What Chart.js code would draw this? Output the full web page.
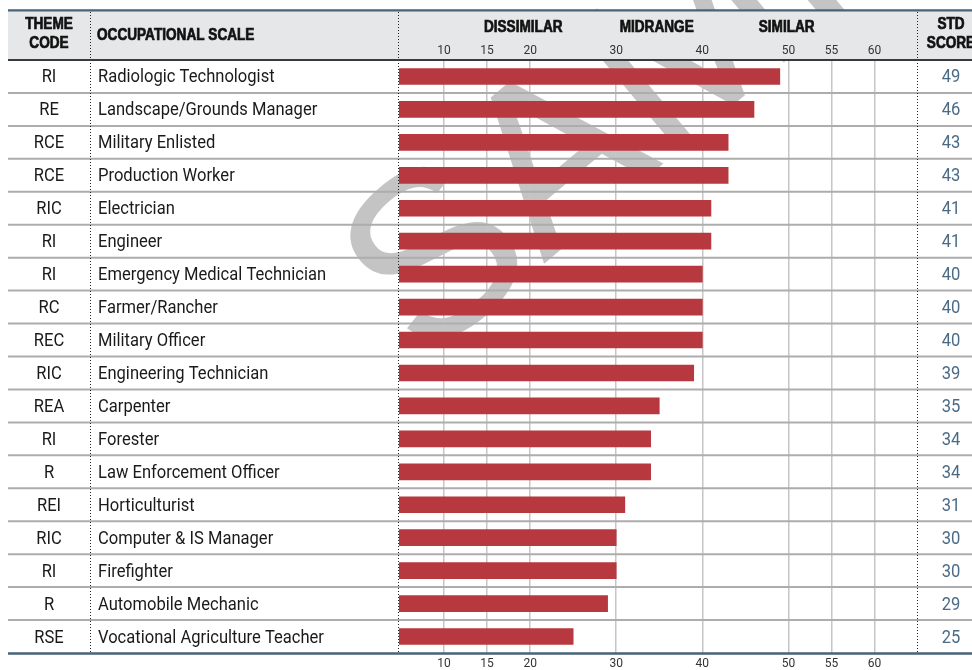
<!DOCTYPE html>
<html>
<head>
<meta charset="utf-8">
<script src="https://cdn.jsdelivr.net/npm/chart.js@4.4.1/dist/chart.umd.min.js"></script>
<style>
  body { margin: 0; background: #fff; }
  #occChart { display: block; }
</style>
</head>
<body>
<canvas id="occChart" width="972" height="670"></canvas>
<script>
const themeCodes = ["RI", "RE", "RCE", "RCE", "RIC", "RI", "RI", "RC", "REC", "RIC", "REA", "RI", "R", "REI", "RIC", "RI", "R", "RSE"];
const occupations = [
  "Radiologic Technologist", "Landscape/Grounds Manager", "Military Enlisted", "Production Worker",
  "Electrician", "Engineer", "Emergency Medical Technician", "Farmer/Rancher", "Military Officer",
  "Engineering Technician", "Carpenter", "Forester", "Law Enforcement Officer", "Horticulturist",
  "Computer & IS Manager", "Firefighter", "Automobile Mechanic", "Vocational Agriculture Teacher"
];
const stdScores = [49, 46, 43, 43, 41, 41, 40, 40, 40, 39, 35, 34, 34, 31, 30, 30, 29, 25];
const tickValues = [10, 15, 20, 30, 40, 50, 55, 60];
const bandLabels = ["DISSIMILAR", "MIDRANGE", "SIMILAR"];

const FONT = "Roboto, 'Liberation Sans', sans-serif";
const HEAD_FONT = "'Liberation Sans', Arial, sans-serif";
const BLUE = "#47637a";

// text squeezed a bit sideways, the original uses a condensed face
function narrowText(ctx, text, x, y, align, sx, heavy) {
  ctx.save();
  ctx.translate(x, y);
  ctx.scale(sx, 1);
  ctx.textAlign = align;
  if (heavy) {
    ctx.strokeStyle = ctx.fillStyle;
    ctx.lineWidth = 0.7;
    ctx.strokeText(text, 0, 0);
  }
  ctx.fillText(text, 0, 0);
  ctx.restore();
}

// paints the table around the bar area: header, row rules, columns, scores
const tablePlugin = {
  id: "tableFrame",
  beforeDraw(chart) {
    const { ctx } = chart;
    ctx.save();
    ctx.fillStyle = "#fff";
    ctx.fillRect(0, 0, chart.width, chart.height);

    // watermark
    ctx.translate(382, 315);
    ctx.rotate(-40 * Math.PI / 180);
    ctx.font = "235px 'Liberation Sans', sans-serif";
    ctx.fillStyle = "#c4c4c4";
    ctx.textBaseline = "middle";
    ctx.fillText("SAMPLE", 0, 0);
    ctx.restore();

    ctx.save();
    ctx.fillStyle = "#e6e7e8";
    ctx.fillRect(8, 11, chart.width - 8, 49);
    ctx.restore();
  },
  beforeDatasetsDraw(chart) {
    const { ctx } = chart;
    const y = chart.scales.y;
    ctx.save();
    ctx.strokeStyle = "#adadad";
    ctx.lineWidth = 2;
    for (let i = 0; i < occupations.length - 1; i++) {
      const yy = (y.getPixelForValue(i) + y.getPixelForValue(i + 1)) / 2;
      ctx.beginPath();
      ctx.moveTo(8, yy);
      ctx.lineTo(chart.width, yy);
      ctx.stroke();
    }
    ctx.restore();
  },
  afterDraw(chart) {
    const { ctx, chartArea } = chart;
    const y = chart.scales.y;
    const x = chart.scales.x;
    ctx.save();

    // header text
    ctx.fillStyle = "#111";
    ctx.font = "bold 16px " + HEAD_FONT;
    ctx.textBaseline = "middle";
    narrowText(ctx, "THEME", 49, 25, "center", 0.85, true);
    narrowText(ctx, "CODE", 49, 44, "center", 0.85, true);
    narrowText(ctx, "STD", 951, 25, "center", 0.85, true);
    narrowText(ctx, "SCORE", 951, 44, "center", 0.85, true);
    narrowText(ctx, "OCCUPATIONAL SCALE", 97, 36, "left", 0.85, true);
    const bandAt = [19.2, 34.7, 49.8];
    bandLabels.forEach((lab, i) => {
      narrowText(ctx, lab, x.getPixelForValue(bandAt[i]), 28, "center", 0.85, true);
    });

    // rows
    ctx.font = "18px " + FONT;
    occupations.forEach((name, i) => {
      const yy = y.getPixelForValue(i) + 1.5;
      ctx.fillStyle = "#1a1a1a";
      narrowText(ctx, themeCodes[i], 49, yy, "center", 0.92);
      narrowText(ctx, name, 98, yy, "left", 0.92);
      ctx.fillStyle = "#4a6a86";
      narrowText(ctx, String(stdScores[i]), 951, yy, "center", 0.92);
    });

    // dotted column separators
    ctx.strokeStyle = "#222";
    ctx.lineWidth = 1;
    ctx.setLineDash([1, 2]);
    [90.5, chartArea.left - 0.5, chartArea.right - 0.5].forEach(xx => {
      ctx.beginPath();
      ctx.moveTo(xx, 12);
      ctx.lineTo(xx, chartArea.bottom);
      ctx.stroke();
    });
    ctx.setLineDash([]);

    // header and frame rules
    ctx.strokeStyle = "#3a3a3a";
    ctx.lineWidth = 1.8;
    ctx.beginPath();
    ctx.moveTo(8, chartArea.top);
    ctx.lineTo(chart.width, chartArea.top);
    ctx.stroke();

    ctx.strokeStyle = BLUE;
    ctx.lineWidth = 2.2;
    ctx.beginPath();
    ctx.moveTo(8, 10.3);
    ctx.lineTo(chart.width, 10.3);
    ctx.stroke();
    ctx.lineWidth = 2.6;
    ctx.beginPath();
    ctx.moveTo(8, chartArea.bottom + 0.5);
    ctx.lineTo(chart.width, chartArea.bottom + 0.5);
    ctx.stroke();
    ctx.restore();
  }
};

function setTicks(scale) {
  scale.ticks = tickValues.map(v => ({ value: v }));
}

new Chart(document.getElementById("occChart"), {
  type: "bar",
  data: {
    labels: occupations,
    datasets: [{
      data: stdScores,
      backgroundColor: "#b7393f",
      borderWidth: 0,
      barThickness: 16
    }]
  },
  options: {
    indexAxis: "y",
    responsive: false,
    animation: false,
    layout: { padding: { left: 399, right: 54, top: 11, bottom: 0 } },
    plugins: { legend: { display: false }, tooltip: { enabled: false } },
    scales: {
      x: {
        position: "bottom",
        min: 4.77,
        max: 65.05,
        afterBuildTicks: setTicks,
        afterFit(scale) { scale.height = 17; },
        border: { display: false },
        grid: { color: "#c6c6c6", lineWidth: 1.5, drawTicks: false },
        ticks: { color: "#333", padding: 4, font: { family: FONT, size: 12 } }
      },
      x2: {
        axis: "x",
        position: "top",
        min: 4.77,
        max: 65.05,
        afterBuildTicks: setTicks,
        afterFit(scale) { scale.height = 49; },
        border: { display: false },
        grid: { display: false, drawTicks: false },
        ticks: { color: "#333", padding: 2, font: { family: FONT, size: 12 } }
      },
      y: {
        display: false,
        grid: { display: false }
      }
    }
  },
  plugins: [tablePlugin]
});
</script>
</body>
</html>
